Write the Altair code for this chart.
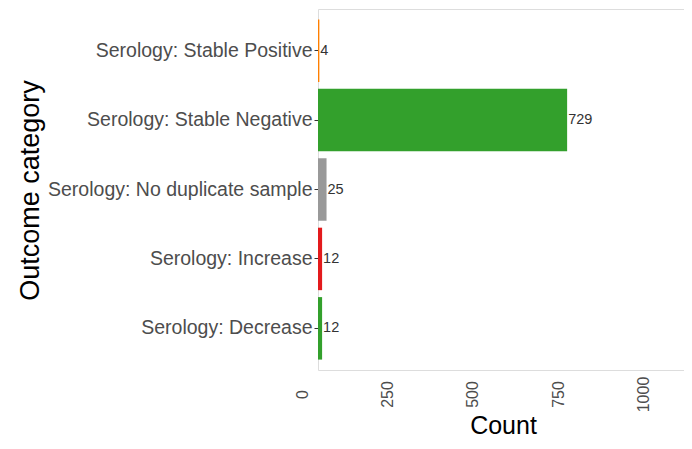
import altair as alt
import pandas as pd

categories = [
    "Serology: Stable Positive",
    "Serology: Stable Negative",
    "Serology: No duplicate sample",
    "Serology: Increase",
    "Serology: Decrease",
]
counts = [4, 729, 25, 12, 12]
colors = ["#ff7f00", "#33a02c", "#999999", "#e31a1c", "#33a02c"]
x_ticks = [0, 250, 500, 750, 1000]

df = pd.DataFrame({"category": categories, "count": counts, "color": colors})

FONT = "Liberation Sans"

y_enc = alt.Y(
    "category:N",
    sort=categories,
    scale=alt.Scale(paddingInner=0.1, paddingOuter=0.15),
    axis=alt.Axis(
        title="Outcome category",
        titleFontSize=27,
        titleFontWeight="normal",
        titleColor="black",
        titleFont=FONT,
        titleAngle=270,
        titleBaseline="alphabetic",
        titleAlign="center",
        titleX=-280,
        titleY=181,
        labelFontSize=19.5,
        labelFont=FONT,
        labelColor="#4d4d4d",
        labelPadding=2,
        labelLimit=0,
        tickSize=4,
        tickColor="#333333",
        domain=False,
    ),
)

x_enc = alt.X(
    "count:Q",
    scale=alt.Scale(domain=[0, 1071], nice=False, zero=True),
    axis=alt.Axis(
        title="Count",
        values=x_ticks,
        format="d",
        titleFontSize=25,
        titleFontWeight="normal",
        titleColor="black",
        titleFont=FONT,
        titleBaseline="alphabetic",
        titleX=185,
        titleY=63,
        labelFontSize=16,
        labelFont=FONT,
        labelColor="#4d4d4d",
        labelAngle=270,
        labelAlign="center",
        labelBaseline="middle",
        labelPadding=24,
        labelOffset=-16,
        ticks=False,
        tickSize=0,
        grid=False,
        domain=False,
    ),
)

bars = alt.Chart(df).mark_bar().encode(
    x=x_enc,
    y=y_enc,
    color=alt.Color("color:N", scale=None),
)

text = alt.Chart(df).mark_text(
    align="left", baseline="middle", dx=1, fontSize=14.5, font=FONT, color="#333333"
).encode(
    x=alt.X("count:Q"),
    y=alt.Y("category:N", sort=categories),
    text=alt.Text("count:Q"),
)

chart = (
    alt.layer(bars, text)
    .properties(
        width=366,
        height=361,
        autosize=alt.AutoSizeParams(type="none"),
        padding={"left": 310, "top": 1, "right": 0, "bottom": 71},
    )
    .configure_view(stroke="#7f7f7f", strokeWidth=1)
    .configure(background="white")
)

chart.save("out.html", embed_options={"renderer": "svg", "actions": False})
